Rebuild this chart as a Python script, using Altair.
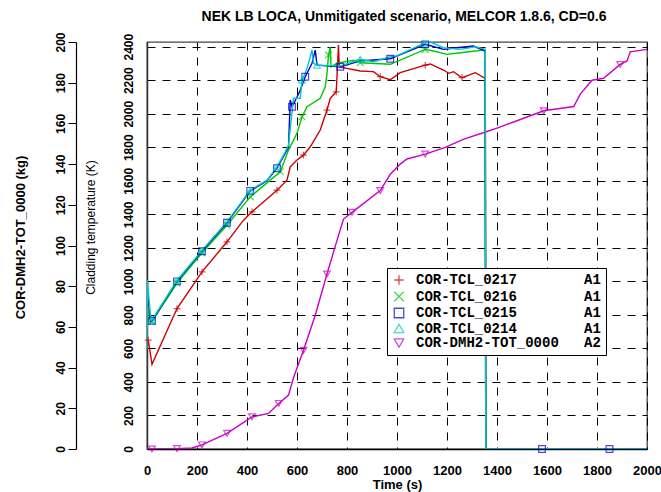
import altair as alt
import pandas as pd

# ---- data ----
series_names = ["COR-TCL_0217", "COR-TCL_0216", "COR-TCL_0215", "COR-TCL_0214", "COR-DMH2-TOT_0000"]
series_axes = ["A1", "A1", "A1", "A1", "A2"]
colors = ["#cc0000", "#00c800", "#0000cc", "#00c8c8", "#c800c8"]
shapes = ["M-1,0H1M0,-1V1", "M-1,-1L1,1M1,-1L-1,1", "square", "triangle-up", "triangle-down"]

# COR-TCL_0217 (K)
t_0217 = [0, 5, 20, 120, 220, 320, 386, 420, 520, 560, 573, 600, 626, 653, 693, 720, 733, 757, 766, 769, 800,
          853, 906, 933, 973, 1013, 1113, 1133, 1186, 1207, 1226, 1260, 1313, 1353, 1355, 2000]
T_0217 = [600, 650, 505, 838, 1057, 1236, 1365, 1415, 1544, 1604, 1683, 1724, 1753, 1803, 1903, 2022, 2092, 2131, 2410, 2280, 2271,
          2255, 2251, 2221, 2203, 2245, 2290, 2297, 2261, 2241, 2251, 2215, 2245, 2211, 0, 0]
m_0217 = [5, 120, 220, 320, 420, 520, 626, 720, 757, 933, 1113, 1260]

# COR-TCL_0216 (K)
t_0216 = [0, 2, 15, 20, 120, 220, 320, 413, 493, 533, 566, 600, 620, 640, 693, 713, 720, 726, 733, 736, 760,
          826, 853, 973, 1113, 1146, 1200, 1253, 1346, 1353, 1355, 2000]
T_0216 = [600, 840, 760, 760, 990, 1170, 1335, 1504, 1604, 1654, 1783, 1883, 1982, 2042, 2092, 2161, 2241, 2350, 2400, 2280, 2301,
          2320, 2304, 2295, 2384, 2374, 2354, 2364, 2380, 2370, 0, 0]
m_0216 = [20, 120, 220, 320, 413, 533, 620, 726, 853, 1113]

# COR-TCL_0215 (K)
t_0215 = [0, 2, 15, 20, 120, 220, 320, 413, 480, 520, 546, 566, 573, 580, 600, 613, 633, 660, 673, 680, 773,
          853, 973, 1113, 1186, 1240, 1306, 1353, 1355, 1580, 1850, 2000]
T_0215 = [600, 930, 760, 765, 1000, 1180, 1350, 1540, 1600, 1675, 1745, 1800, 2082, 2042, 2100, 2141, 2221, 2301, 2380, 2290, 2280,
          2315, 2328, 2414, 2384, 2394, 2404, 2374, 0, 0, 0, 0]
m_0215 = [20, 120, 220, 320, 413, 520, 580, 633, 773, 973, 1113, 1580, 1850]

# COR-TCL_0214 (K)
t_0214 = [0, 2, 15, 20, 120, 220, 320, 413, 480, 520, 546, 566, 578, 586, 613, 620, 633, 646, 660, 666, 680, 773,
          853, 906, 973, 1000, 1106, 1133, 1186, 1253, 1313, 1353, 1355, 2000]
T_0214 = [600, 1006, 770, 770, 1005, 1185, 1355, 1544, 1604, 1683, 1753, 1810, 1982, 2092, 2092, 2201, 2241, 2301, 2380, 2301, 2290, 2285,
          2325, 2310, 2340, 2345, 2420, 2428, 2394, 2384, 2400, 2384, 0, 0]
m_0214 = [20, 120, 220, 320, 413, 520, 620, 680, 853, 1106]

# COR-DMH2-TOT_0000 (kg)
t_h2 = [0, 20, 120, 180, 220, 320, 420, 486, 527, 566, 587, 626, 673, 720, 760, 786, 820, 933, 973, 1013, 1040,
        1113, 1193, 1267, 1360, 1400, 1480, 1587, 1707, 1733, 1780, 1826, 1893, 1920, 1933, 2000]
kg_h2 = [0, 0, 0.2, 0.5, 2, 7.7, 15.8, 17.5, 22.4, 26.5, 35.4, 48.5, 65.7, 86, 102.5, 113, 116.3, 127, 135, 140, 142.5,
         144.9, 148.2, 152.3, 156, 157.7, 161.3, 166.2, 168.3, 174.4, 181.2, 182.2, 189, 190.7, 195.2, 196.4]
m_h2 = [20, 120, 220, 320, 420, 527, 626, 720, 820, 933, 1113, 1587, 1893]

x_ticks = list(range(0, 2001, 200))
temp_ticks = list(range(0, 2401, 200))
kg_ticks = list(range(0, 201, 20))

NB = "\u00a0"
labels = [n + NB * (20 - len(n)) + a + NB for n, a in zip(series_names, series_axes)]

temp_sets = [(t_0217, T_0217, m_0217), (t_0216, T_0216, m_0216), (t_0215, T_0215, m_0215), (t_0214, T_0214, m_0214)]
rows = []
for lab, (ts, vs, ms) in zip(labels[:4], temp_sets):
    for t, v in zip(ts, vs):
        rows.append({"t": t, "v": v, "series": lab, "mark": t in ms})
temp_df = pd.DataFrame(rows)
h2_df = pd.DataFrame({"t": t_h2, "v": kg_h2, "series": labels[4], "mark": [t in m_h2 for t in t_h2]})

FONT = "Liberation Sans"

x_enc = alt.X("t:Q", scale=alt.Scale(domain=[0, 2000], nice=False),
              axis=alt.Axis(values=x_ticks, format="d", grid=True, gridColor="black", gridDash=[8, 7],
                            gridOpacity=1, gridWidth=1, ticks=False, domainColor="black", domainWidth=1.5,
                            labelFont=FONT, labelFontSize=13, labelFontWeight="bold", labelColor="black",
                            labelPadding=15, labelFlush=False, title="Time (s)", titleFont=FONT,
                            titleFontSize=13, titleFontWeight="bold", titleColor="black",
                            titleBaseline="top", titleY=29))

legend = alt.Legend(title=None, orient="none", legendX=240, legendY=226, direction="vertical",
                    fillColor="white", strokeColor="black", padding=5, labelFont="Liberation Mono",
                    labelFontSize=14, labelFontWeight="bold", labelColor="black", symbolSize=90,
                    symbolStrokeWidth=1.3, labelOffset=10, rowPadding=0.5, labelLimit=400)

color_scale = alt.Scale(domain=labels, range=colors)
shape_scale = alt.Scale(domain=labels, range=shapes)
# same mapping, listed in reverse so that this (legend-less) scale is not merged with the legend's
stroke_scale = alt.Scale(domain=labels[::-1], range=colors[::-1])

temp_y = alt.Y("v:Q", scale=alt.Scale(domain=[0, 2428], nice=False),
               axis=alt.Axis(values=temp_ticks, format="d", orient="left", grid=True, gridColor="black",
                             gridDash=[8, 7], gridOpacity=1, ticks=False, domainColor="#333", domainWidth=1.5,
                             labelFont=FONT, labelFontSize=12, labelFontWeight="bold", labelColor="black",
                             labelAngle=270, labelAlign="center", labelBaseline="bottom", labelPadding=12,
                             labelFlush=False, title="Cladding temperature  (K)", titleFont=FONT,
                             titleFontSize=12, titleFontWeight="normal", titleColor="black",
                             titleAngle=270, titleBaseline="middle", titleAlign="center",
                             titleX=-57, titleY=185))

kg_y = alt.Y("v:Q", scale=alt.Scale(domain=[0, 200], nice=False),
             axis=alt.Axis(values=kg_ticks, format="d", orient="left", offset=71, grid=False, ticks=True,
                           tickSize=8, tickColor="black", domainColor="black", domainWidth=1.2,
                           labelFont=FONT, labelFontSize=12, labelFontWeight="bold", labelColor="black",
                           labelAngle=270, labelAlign="center", labelBaseline="bottom", labelPadding=1,
                           labelFlush=False, title="COR-DMH2-TOT_0000  (kg)", titleFont=FONT,
                           titleFontSize=13, titleFontWeight="bold", titleColor="black",
                           titleAngle=270, titleBaseline="middle", titleAlign="center",
                           titleX=-56, titleY=195))

h2_line = alt.Chart(h2_df).mark_line(strokeWidth=1.4, clip=True).encode(
    x=x_enc, y=kg_y, stroke=alt.Stroke("series:N", scale=stroke_scale, legend=None))
h2_pts = alt.Chart(h2_df).transform_filter("datum.mark").mark_point(filled=False, size=45, strokeWidth=1.2).encode(
    x=x_enc, y=kg_y,
    color=alt.Color("series:N", scale=color_scale, legend=legend),
    shape=alt.Shape("series:N", scale=shape_scale, legend=legend))

temp_line = alt.Chart(temp_df).mark_line(strokeWidth=1.4, clip=True).encode(
    x=x_enc, y=temp_y, stroke=alt.Stroke("series:N", scale=stroke_scale, legend=None),
    order=alt.Order("t:Q"))
temp_pts = alt.Chart(temp_df).transform_filter("datum.mark").mark_point(filled=False, size=45, strokeWidth=1.2).encode(
    x=x_enc, y=temp_y,
    color=alt.Color("series:N", scale=color_scale, legend=legend),
    shape=alt.Shape("series:N", scale=shape_scale, legend=legend))

chart = alt.layer(alt.layer(h2_line, h2_pts), alt.layer(temp_line, temp_pts)).resolve_scale(
    y="independent"
).properties(
    width=500, height=407,
    padding={"left": 147, "top": 42, "right": 14, "bottom": 43},
    autosize=alt.AutoSizeParams(type="none"),
    background="white",
    title=alt.TitleParams("NEK LB LOCA, Unmitigated scenario, MELCOR 1.8.6, CD=0.6", font=FONT,
                          fontSize=14, fontWeight="bold", color="black", anchor="middle", offset=8, dx=7)
).configure_view(stroke="#444", strokeWidth=1.3)

chart.save("out.html", embed_options={"renderer": "svg", "actions": False})
